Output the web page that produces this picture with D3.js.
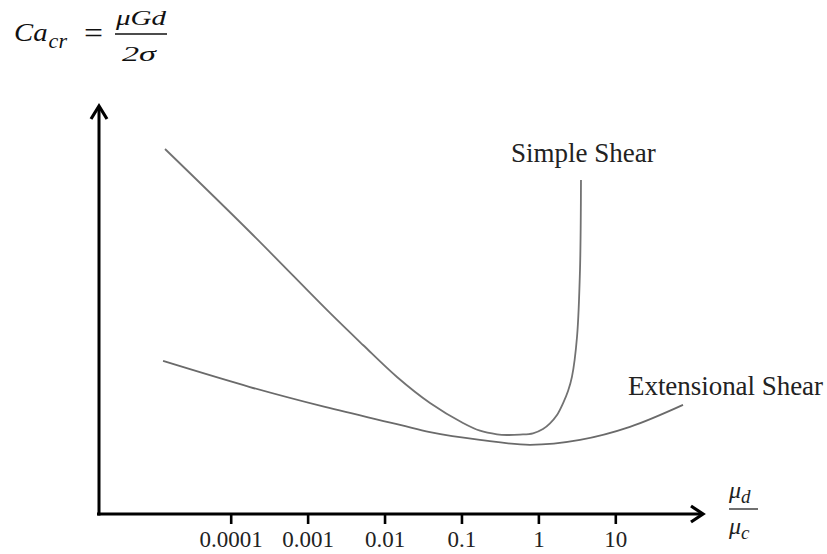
<!DOCTYPE html>
<html>
<head>
<meta charset="utf-8">
<script src="https://cdn.jsdelivr.net/npm/d3@7"></script>
<style>
  html, body { margin: 0; padding: 0; background: #fff; }
  svg { display: block; }
</style>
</head>
<body>
<svg id="chart" width="827" height="554"></svg>
<script>
// ---- data (y in arbitrary units) ----
const tickValues = [0.0001, 0.001, 0.01, 0.1, 1, 10];
const tickLabels = ["0.0001", "0.001", "0.01", "0.1", "1", "10"];

const simpleX = [1.40e-5, 1.78e-4, 1.95e-3, 5.25e-3, 0.01452, 0.039, 0.1047, 0.174, 0.290, 0.391, 0.577, 0.851, 1.148, 1.416, 1.746, 2.09, 2.43, 2.735, 3.18, 3.475, 3.58];
const simpleY = [8.968, 6.929, 4.939, 4.152, 3.366, 2.727, 2.236, 2.047, 1.958, 1.941, 1.951, 1.983, 2.088, 2.228, 2.432, 2.720, 3.022, 3.374, 4.356, 5.995, 8.206];

const extX = [1.32e-5, 1.78e-4, 0.00168, 0.0159, 0.039, 0.174, 0.778, 3.48, 15.5, 75.9];
const extY = [3.76, 3.12, 2.63, 2.19, 2.01, 1.82, 1.70, 1.82, 2.14, 2.68];

const seriesNames = ["Simple Shear", "Extensional Shear"];

// ---- layout ----
const svg = d3.select("#chart");
const axisX0 = 97, axisY0 = 514, xArrowTip = 703, yArrowTip = 106, yAxisX = 99;

const x = d3.scaleLog().domain([1e-4, 10]).range([230.7, 615.3]);
const y = d3.scaleLinear().domain([0, 10]).range([514, 107]);

// curves
const line = d3.line().x(d => x(d[0])).y(d => y(d[1])).curve(d3.curveCatmullRom.alpha(0.5));
const simple = simpleX.map((v, i) => [v, simpleY[i]]);
const ext = extX.map((v, i) => [v, extY[i]]);

svg.append("path").datum(simple).attr("d", line)
  .attr("fill", "none").attr("stroke", "#727272").attr("stroke-width", 1.8);
svg.append("path").datum(ext).attr("d", line)
  .attr("fill", "none").attr("stroke", "#6a6a6a").attr("stroke-width", 1.8);

// x axis with d3 axis for ticks
const xAxis = d3.axisBottom(x).tickValues(tickValues)
  .tickFormat((d, i) => tickLabels[i]).tickSize(10).tickPadding(7);
const gx = svg.append("g").attr("transform", `translate(0,${axisY0})`).call(xAxis);
gx.select(".domain").remove();
gx.selectAll(".tick line").attr("stroke", "#000").attr("stroke-width", 2.6);
gx.selectAll(".tick text").attr("fill", "#222")
  .style("font-family", "'Liberation Serif', serif").style("font-size", "23px");

// axis lines
svg.append("line").attr("x1", axisX0).attr("y1", axisY0).attr("x2", xArrowTip - 2).attr("y2", axisY0)
  .attr("stroke", "#000").attr("stroke-width", 3);
svg.append("line").attr("x1", yAxisX).attr("y1", axisY0 + 1.5).attr("x2", yAxisX).attr("y2", yArrowTip + 2)
  .attr("stroke", "#000").attr("stroke-width", 3);

// arrowheads (chevrons)
svg.append("path")
  .attr("d", `M${xArrowTip - 12},${axisY0 - 8} L${xArrowTip},${axisY0} L${xArrowTip - 12},${axisY0 + 8}`)
  .attr("fill", "none").attr("stroke", "#000").attr("stroke-width", 3.2).attr("stroke-linejoin", "miter");
svg.append("path")
  .attr("d", `M${yAxisX - 8},${yArrowTip + 13} L${yAxisX},${yArrowTip} L${yAxisX + 8},${yArrowTip + 13}`)
  .attr("fill", "none").attr("stroke", "#000").attr("stroke-width", 3.2).attr("stroke-linejoin", "miter");

// series labels
const labelFont = "'Liberation Serif', 'Times New Roman', serif";
svg.append("text").attr("x", 511).attr("y", 162).text(seriesNames[0])
  .style("font-family", labelFont).style("font-size", "27px").attr("fill", "#222");
svg.append("text").attr("x", 628).attr("y", 395).text(seriesNames[1])
  .style("font-family", labelFont).style("font-size", "27px").attr("fill", "#222")
  .attr("textLength", 195).attr("lengthAdjust", "spacing");

// formula Ca_cr = μGd / 2σ
const mathFont = "'Liberation Serif', 'DejaVu Serif', serif";
const f = svg.append("g").style("font-family", mathFont).attr("fill", "#111");
const ca = f.append("text").attr("x", 14).attr("y", 41).style("font-style", "italic")
  .attr("textLength", 53).attr("lengthAdjust", "spacingAndGlyphs");
ca.append("tspan").style("font-size", "26px").text("Ca");
ca.append("tspan").attr("dx", 1).attr("dy", 7).style("font-size", "20px").text("cr");
f.append("text").attr("x", 84).attr("y", 43).style("font-size", "30px")
  .attr("textLength", 19).attr("lengthAdjust", "spacingAndGlyphs").text("=");
f.append("text").attr("x", 116).attr("y", 25)
  .style("font-style", "italic").style("font-size", "20px")
  .attr("textLength", 50).attr("lengthAdjust", "spacingAndGlyphs").text("μGd");
f.append("line").attr("x1", 115).attr("x2", 167).attr("y1", 34).attr("y2", 34)
  .attr("stroke", "#111").attr("stroke-width", 1.7);
f.append("text").attr("x", 122).attr("y", 61)
  .style("font-style", "italic").style("font-size", "20px")
  .attr("textLength", 34).attr("lengthAdjust", "spacingAndGlyphs").text("2σ");

// x-axis label μd / μc
const xl = svg.append("g").style("font-family", mathFont).attr("fill", "#222");
const num = xl.append("text").attr("x", 729).attr("y", 498).style("font-style", "italic").style("font-size", "24px");
num.append("tspan").text("μ");
num.append("tspan").attr("dy", 5).style("font-size", "19px").text("d");
xl.append("line").attr("x1", 729).attr("x2", 758).attr("y1", 509).attr("y2", 509)
  .attr("stroke", "#333").attr("stroke-width", 1.4);
const den = xl.append("text").attr("x", 729).attr("y", 534).style("font-style", "italic").style("font-size", "24px");
den.append("tspan").text("μ");
den.append("tspan").attr("dy", 5).style("font-size", "19px").text("c");
</script>
</body>
</html>
